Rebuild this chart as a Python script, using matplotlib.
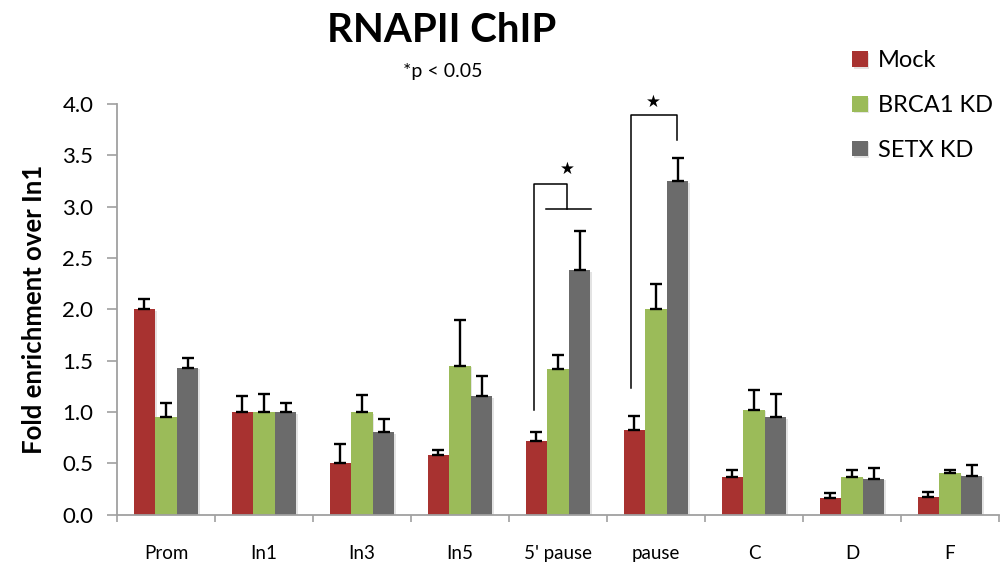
import matplotlib.pyplot as plt
import matplotlib.patheffects as pe
import numpy as np

plt.rcParams['font.family'] = ['Lato', 'DejaVu Sans']

categories = ["Prom", "In1", "In3", "In5", "5' pause", "pause", "C", "D", "F"]
series_names = ["Mock", "BRCA1 KD", "SETX KD"]
mock = [2.0, 1.0, 0.50, 0.58, 0.72, 0.82, 0.37, 0.16, 0.17]
brca1 = [0.95, 1.0, 1.0, 1.45, 1.42, 2.0, 1.02, 0.37, 0.40]
setx = [1.43, 1.0, 0.80, 1.15, 2.38, 3.25, 0.95, 0.35, 0.38]
mock_err = [0.10, 0.15, 0.19, 0.045, 0.08, 0.14, 0.065, 0.045, 0.045]
brca1_err = [0.14, 0.17, 0.16, 0.45, 0.13, 0.25, 0.19, 0.06, 0.035]
setx_err = [0.095, 0.09, 0.13, 0.20, 0.38, 0.22, 0.22, 0.10, 0.10]
colors = ["#A83230", "#9BBB59", "#6B6B6B"]

fig = plt.figure(figsize=(10, 5.62), dpi=100)
ax = fig.add_axes([0.117, 0.0845, 0.882, 0.7305])

x = np.arange(len(categories))
w = 0.22
shadow = [pe.SimplePatchShadow(offset=(1.2, -1.2), alpha=0.12), pe.Normal()]
handles = []
for k, (vals, errs) in enumerate([(mock, mock_err), (brca1, brca1_err), (setx, setx_err)]):
    bars = ax.bar(x + (k - 1) * w, vals, w, color=colors[k], label=series_names[k], zorder=2)
    for b in bars:
        b.set_path_effects(shadow)
    # only the upper half of each error bar is drawn
    ax.errorbar(x + (k - 1) * w, vals, yerr=[np.zeros(len(vals)), errs], fmt='none',
                ecolor='black', elinewidth=1.7, capsize=4.3, capthick=1.7, zorder=3)
    handles.append(bars)

ax.set_xlim(-0.5, len(categories) - 0.5)
ax.set_ylim(0, 4.0)
ax.set_yticks(np.arange(0, 4.01, 0.5))
ax.set_yticklabels([f"{v:.1f}" for v in np.arange(0, 4.01, 0.5)], fontsize=16)
ax.set_xticks(x)
ax.set_xticklabels(categories, fontsize=13.5)
ax.set_xticks(np.arange(-0.5, len(categories)), minor=True)
ax.tick_params(axis='x', which='major', length=0, pad=22)
ax.tick_params(axis='x', which='minor', length=5, color='#A0A0A0', width=1.2)
ax.tick_params(axis='y', length=7, color='#A0A0A0', width=1.2, pad=10)
for s in ['top', 'right']:
    ax.spines[s].set_visible(False)
for s in ['left', 'bottom']:
    ax.spines[s].set_color('#A0A0A0')
    ax.spines[s].set_linewidth(1.3)
ax.set_ylabel("Fold enrichment over In1", fontsize=18.5, fontweight='bold', labelpad=12)

# significance brackets
lk = dict(color='black', lw=1.1, clip_on=False, zorder=4)
ax.plot([3.757, 3.757, 4.093, 4.093], [1.02, 3.22, 3.22, 2.98], **lk)
ax.plot([3.879, 4.337], [2.98, 2.98], **lk)
ax.plot([4.741, 4.741, 5.21, 5.21], [1.23, 3.89, 3.89, 3.65], **lk)
ax.text(4.093, 3.37, "★", ha='center', va='center', fontsize=12, family='DejaVu Sans', clip_on=False)
ax.text(4.975, 4.02, "★", ha='center', va='center', fontsize=12, family='DejaVu Sans', clip_on=False)

fig.text(0.442, 0.945, "RNAPII ChIP", ha='center', va='center', fontsize=29, fontweight='bold')
fig.text(0.443, 0.873, "*p < 0.05", ha='center', va='center', fontsize=14)

fig.legend(handles, series_names, loc='upper left', bbox_to_anchor=(0.831, 0.948), frameon=False,
           fontsize=17, handlelength=0.65, handleheight=0.65, handletextpad=0.45, labelspacing=1.0)

fig.savefig("out.png", dpi=100)
